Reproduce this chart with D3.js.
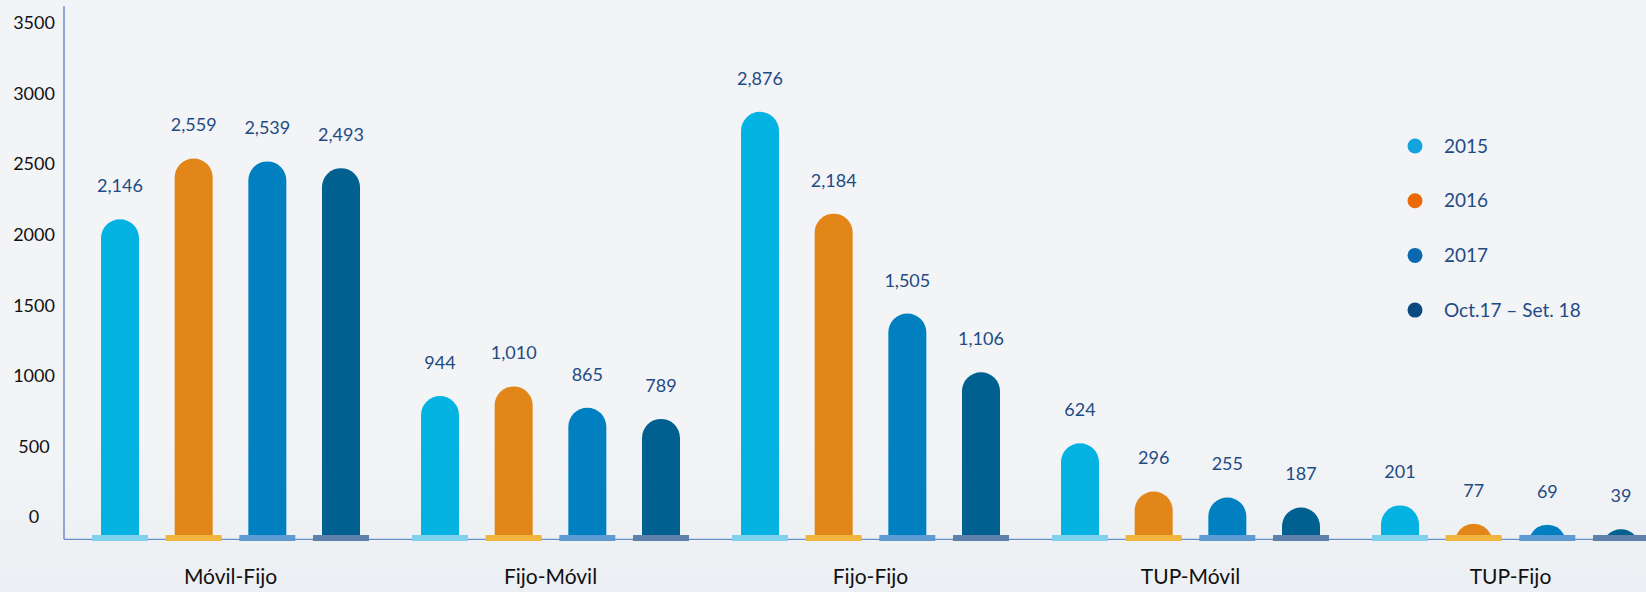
<!DOCTYPE html>
<html>
<head>
<meta charset="utf-8">
<script src="https://cdn.jsdelivr.net/npm/d3@7/dist/d3.min.js"></script>
<style>
  html, body { margin: 0; padding: 0; background: #f3f4f7; }
  svg { display: block; }
  text { font-family: Lato, "Open Sans", "DejaVu Sans", sans-serif; }
</style>
</head>
<body>
<svg id="chart" width="1646" height="592"></svg>
<script>
// Traffic by route and period
const categories = ["Móvil-Fijo", "Fijo-Móvil", "Fijo-Fijo", "TUP-Móvil", "TUP-Fijo"];
const seriesNames = ["2015", "2016", "2017", "Oct.17 – Set. 18"];
const values2015 = [2146, 944, 2876, 624, 201];
const values2016 = [2559, 1010, 2184, 296, 77];
const values2017 = [2539, 865, 1505, 255, 69];
const valuesOct17Set18 = [2493, 789, 1106, 187, 39];
const yTicks = [0, 500, 1000, 1500, 2000, 2500, 3000, 3500];

const seriesValues = [values2015, values2016, values2017, valuesOct17Set18];
const barColors = ["#05b3e3", "#e2861a", "#0080c0", "#00608f"];
const plateColors = ["#80d2ef", "#f1b640", "#5f9bd2", "#5f80ab"];
const legendColors = ["#14a3dd", "#ec6a06", "#0a68b0", "#0b4a80"];
const labelColor = "#1f4b85";

const svg = d3.select("#chart");
const W = 1646, H = 592;

// background
const defs = svg.append("defs");
const bg = defs.append("linearGradient").attr("id", "bg").attr("x1", 0).attr("y1", 0).attr("x2", 0).attr("y2", 1);
bg.append("stop").attr("offset", "0%").attr("stop-color", "#f3f4f7");
bg.append("stop").attr("offset", "75%").attr("stop-color", "#f2f4f6");
bg.append("stop").attr("offset", "100%").attr("stop-color", "#eceff3");
svg.append("rect").attr("width", W).attr("height", H).attr("fill", "url(#bg)");

// scales
const baseY = 535;
const y = d3.scaleLinear().domain([0, 3500]).range([baseY, 20]);
const yTickScale = d3.scaleLinear().domain([0, 3500]).range([517, 23]);
const x0 = d3.scaleBand().domain(categories).range([70.5, 1670.5]).padding(0);
const x1 = d3.scalePoint().domain(seriesNames).range([-110.5, 110.5]);

const barW = 38, r = barW / 2, plateW = 56, plateH = 6;
const axisX = 64, axisY = 539.3;

// axis lines
svg.append("line").attr("x1", axisX).attr("x2", axisX).attr("y1", 6).attr("y2", axisY)
  .attr("stroke", "#4f78bb").attr("stroke-width", 1.2);
svg.append("line").attr("x1", axisX).attr("x2", W).attr("y1", axisY).attr("y2", axisY)
  .attr("stroke", "#6b8fc9").attr("stroke-width", 1.2);

// y tick labels
const yAxis = d3.axisLeft(yTickScale).tickValues(yTicks).tickSize(0).tickFormat(d3.format("d"));
const gy = svg.append("g").attr("transform", "translate(34,0)").call(yAxis);
gy.select(".domain").remove();
gy.selectAll("text")
  .attr("x", 0).attr("text-anchor", "middle")
  .attr("font-size", 18).attr("fill", "#111")
  .style("font-family", "Lato, 'Open Sans', sans-serif");

// capsule / dome shape for a bar
function barPath(cx, top, base) {
  const h = base - top;
  const xl = cx - r, xr = cx + r;
  if (h >= r) {
    return `M${xl},${base} L${xl},${top + r} A${r},${r} 0 0 1 ${xr},${top + r} L${xr},${base} Z`;
  }
  const hw = Math.sqrt(r * r - (r - h) * (r - h));
  return `M${cx - hw},${base} A${r},${r} 0 0 1 ${cx + hw},${base} Z`;
}

const rows = [];
categories.forEach((c, ci) => {
  seriesNames.forEach((s, si) => {
    rows.push({ cat: c, series: s, si: si, value: seriesValues[si][ci] });
  });
});

const gBars = svg.append("g");
const cxOf = d => x0(d.cat) + x0.bandwidth() / 2 + x1(d.series);

gBars.selectAll("path.bar").data(rows).join("path")
  .attr("class", "bar")
  .attr("d", d => barPath(cxOf(d), y(d.value), baseY))
  .attr("fill", d => barColors[d.si]);

gBars.selectAll("rect.plate").data(rows).join("rect")
  .attr("class", "plate")
  .attr("x", d => cxOf(d) - plateW / 2)
  .attr("y", baseY)
  .attr("width", plateW).attr("height", plateH)
  .attr("fill", d => plateColors[d.si]);

// value labels
const fmt = d3.format(",");
gBars.selectAll("text.val").data(rows).join("text")
  .attr("class", "val")
  .attr("x", d => cxOf(d))
  .attr("y", d => y(d.value) - 27)
  .attr("text-anchor", "middle")
  .attr("font-size", 18)
  .attr("fill", labelColor)
  .text(d => fmt(d.value));

// category labels
const xAxis = d3.axisBottom(x0).tickSize(0).tickPadding(0);
const gx = svg.append("g").attr("transform", "translate(0,584)").call(xAxis);
gx.select(".domain").remove();
gx.selectAll("text")
  .attr("dy", 0).attr("y", 0)
  .attr("font-size", 21).attr("fill", "#111")
  .style("font-family", "Lato, 'Open Sans', sans-serif");

// legend
const legend = svg.append("g").attr("transform", "translate(1415,146)");
const li = legend.selectAll("g").data(seriesNames).join("g")
  .attr("transform", (d, i) => `translate(0,${i * 54.7})`);
li.append("circle").attr("r", 7.5).attr("fill", (d, i) => legendColors[i]);
li.append("text").attr("x", 29).attr("y", 0).attr("dy", "0.35em")
  .attr("font-size", 19).attr("fill", labelColor).text(d => d);
</script>
</body>
</html>
